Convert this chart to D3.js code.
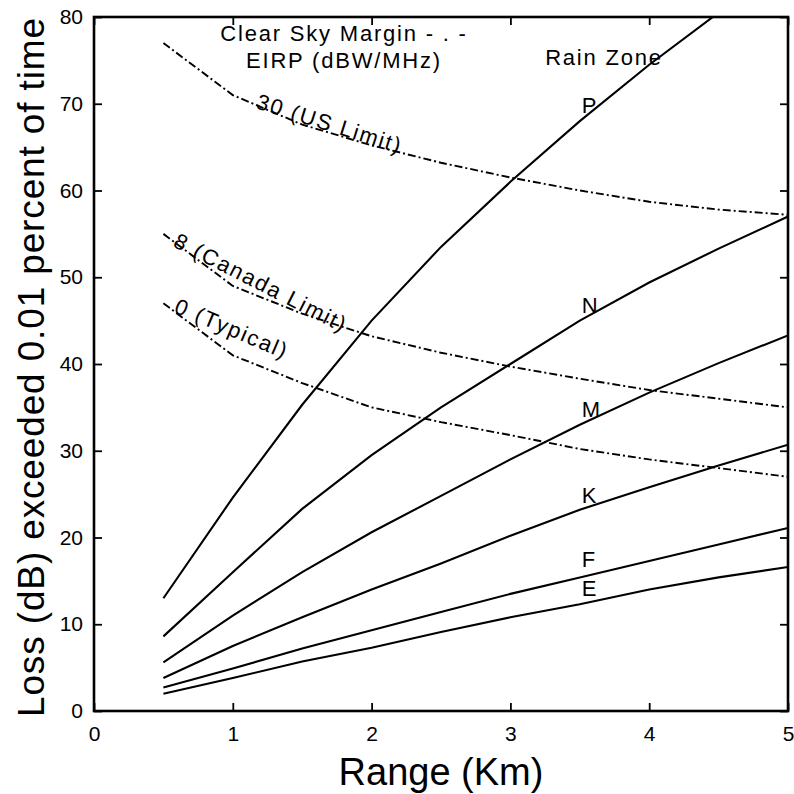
<!DOCTYPE html>
<html>
<head>
<meta charset="utf-8">
<script src="https://cdn.jsdelivr.net/npm/d3@7"></script>
<style>
  body { margin: 0; background: #fff; }
  text { font-family: "Liberation Sans", Arial, Helvetica, sans-serif; fill: #000; }
</style>
</head>
<body>
<div id="chart"></div>
<script>
// range values (km) the curves were computed at
const rangeKm = [0.5, 1, 1.5, 2, 2.5, 3, 3.5, 4, 4.5, 5];

// rain zone loss (dB) exceeded 0.01 % of time
const zoneNames = ["P", "N", "M", "K", "F", "E"];
const lossP = [13, 24.6, 35.3, 45, 53.5, 61, 68, 74.5, 80.5];
const lossN = [8.6, 16, 23.3, 29.5, 35, 40, 45, 49.4, 53.3, 57];
const lossM = [5.6, 11, 16, 20.6, 24.8, 29, 33, 36.7, 40.1, 43.3];
const lossK = [3.8, 7.5, 10.8, 14, 17, 20.2, 23.2, 25.8, 28.3, 30.7];
const lossF = [2.7, 4.9, 7.2, 9.3, 11.4, 13.5, 15.4, 17.3, 19.2, 21.1];
const lossE = [2.0, 3.8, 5.7, 7.3, 9.1, 10.8, 12.3, 14, 15.4, 16.6];

// clear sky margin curves, by EIRP
const eirpLabels = ["30 (US Limit)", "8 (Canada Limit)", "0 (Typical)"];
const margin30 = [77, 71, 67.6, 65.2, 63.2, 61.5, 60, 58.7, 57.8, 57.2];
const margin8  = [55, 49, 45.8, 43.2, 41.3, 39.7, 38.3, 37, 36, 35];
const margin0  = [47, 41, 37.8, 35, 33.3, 31.8, 30.2, 29, 28, 27];

const xTicks = [0, 1, 2, 3, 4, 5];
const yTicks = [0, 10, 20, 30, 40, 50, 60, 70, 80];

const margin = { top: 17, right: 6, bottom: 83, left: 94 },
      width  = 794 - margin.left - margin.right,
      height = 794 - margin.top  - margin.bottom;

const svg = d3.select("#chart")
  .append("svg")
  .attr("width", 794)
  .attr("height", 794);

svg.append("rect").attr("width", 794).attr("height", 794).attr("fill", "#fff");

const g = svg.append("g")
  .attr("transform", `translate(${margin.left},${margin.top})`);

const x = d3.scaleLinear().domain([0, 5]).range([0, width]);
const y = d3.scaleLinear().domain([0, 80]).range([height, 0]);

svg.append("defs").append("clipPath").attr("id", "plot")
  .append("rect").attr("width", width).attr("height", height);

// axes, ticks pointing inward
const axisB = g.append("g")
  .attr("transform", `translate(0,${height})`)
  .call(d3.axisBottom(x).tickValues(xTicks).tickFormat(d3.format("d"))
    .tickSizeInner(-8).tickSizeOuter(0).tickPadding(15));
const axisT = g.append("g")
  .call(d3.axisTop(x).tickValues(xTicks).tickFormat("")
    .tickSizeInner(-8).tickSizeOuter(0));
const axisL = g.append("g")
  .call(d3.axisLeft(y).tickValues(yTicks).tickFormat(d3.format("d"))
    .tickSizeInner(-8).tickSizeOuter(0).tickPadding(11));
const axisR = g.append("g")
  .attr("transform", `translate(${width},0)`)
  .call(d3.axisRight(y).tickValues(yTicks).tickFormat("")
    .tickSizeInner(-8).tickSizeOuter(0));

[axisB, axisT, axisL, axisR].forEach(a => {
  a.select(".domain").remove();
  a.selectAll(".tick line").attr("stroke", "#000").attr("stroke-width", 1.8);
  a.selectAll(".tick text")
    .style("font-family", '"Liberation Sans", Arial, sans-serif')
    .style("font-size", "21px").attr("fill", "#000");
});

g.append("rect")
  .attr("width", width).attr("height", height)
  .attr("fill", "none").attr("stroke", "#000").attr("stroke-width", 2.6);

const line = d3.line()
  .x((d, i) => x(rangeKm[i]))
  .y(d => y(d));

const plot = g.append("g").attr("clip-path", "url(#plot)");

// clear sky margin curves
const marginSeries = [margin30, margin8, margin0];
plot.selectAll("path.margin")
  .data(marginSeries)
  .join("path")
  .attr("class", "margin")
  .attr("d", line)
  .attr("fill", "none")
  .attr("stroke", "#000")
  .attr("stroke-width", 1.9)
  .attr("stroke-dasharray", "8,3,2,3");

// rain zone curves
const lossSeries = [lossP, lossN, lossM, lossK, lossF, lossE];
plot.selectAll("path.zone")
  .data(lossSeries)
  .join("path")
  .attr("class", "zone")
  .attr("d", line)
  .attr("fill", "none")
  .attr("stroke", "#000")
  .attr("stroke-width", 2.1);

// zone letters just above each curve at 3.5 km
const labelKm = 3.5;
const labelIdx = rangeKm.indexOf(labelKm);
const labelDy = [-8, -8, -8, -7, -10, -8];
g.selectAll("text.zone")
  .data(zoneNames)
  .join("text")
  .attr("class", "zone")
  .attr("x", x(labelKm) + 2)
  .attr("y", (d, i) => y(lossSeries[i][labelIdx]) + labelDy[i])
  .style("font-size", "22px")
  .text(d => d);

// rotated labels sitting on the margin curves
const curveNotes = [
  { at: [1.16, 69.5], angle: 17.5 },
  { at: [0.562, 53.6], angle: 27 },
  { at: [0.569, 46.0], angle: 23 }
];
g.selectAll("text.note")
  .data(eirpLabels)
  .join("text")
  .attr("class", "note")
  .attr("transform", (d, i) =>
    `translate(${x(curveNotes[i].at[0])},${y(curveNotes[i].at[1])}) rotate(${curveNotes[i].angle})`)
  .style("font-size", "22px")
  .style("letter-spacing", "1.8px")
  .text(d => d);

// header texts
const header = [
  { t: "Clear Sky Margin - . -", cx: 344, by: 41 },
  { t: "EIRP (dBW/MHz)", cx: 344, by: 68 },
  { t: "Rain Zone", cx: 604, by: 65 }
];
svg.selectAll("text.head")
  .data(header)
  .join("text")
  .attr("class", "head")
  .attr("x", d => d.cx)
  .attr("y", d => d.by)
  .attr("text-anchor", "middle")
  .style("font-size", "22px")
  .style("letter-spacing", "1.8px")
  .text(d => d.t);

// axis titles
svg.append("text")
  .attr("x", margin.left + width / 2)
  .attr("y", 785)
  .attr("text-anchor", "middle")
  .style("font-size", "38px")
  .text("Range (Km)");

svg.append("text")
  .attr("transform", `translate(44,${(18 + 717) / 2}) rotate(-90)`)
  .attr("text-anchor", "middle")
  .attr("textLength", 699)
  .attr("lengthAdjust", "spacing")
  .style("font-size", "37px")
  .text("Loss (dB) exceeded 0.01 percent of time");
</script>
</body>
</html>
